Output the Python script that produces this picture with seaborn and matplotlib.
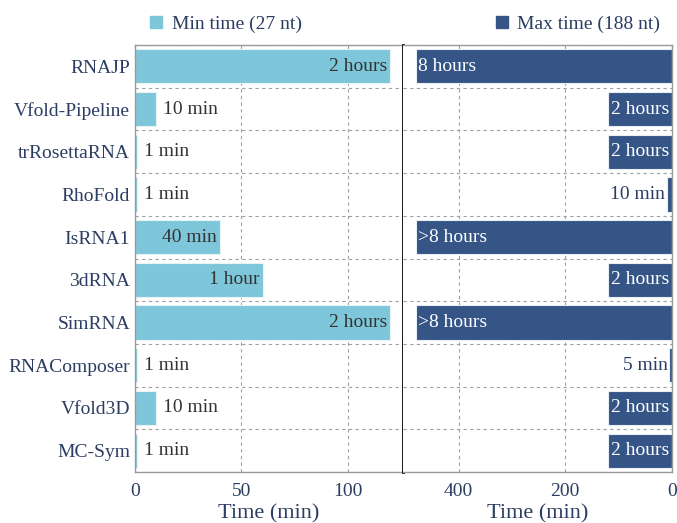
import numpy as np
import pandas as pd
import seaborn as sns
import matplotlib
matplotlib.use("Agg")
import matplotlib.pyplot as plt
from matplotlib.lines import Line2D

# ----------------------------
# DATA
# ----------------------------
methods = ["RNAJP", "Vfold-Pipeline", "trRosettaRNA", "RhoFold", "IsRNA1",
           "3dRNA", "SimRNA", "RNAComposer", "Vfold3D", "MC-Sym"]
min_time = [120, 10, 1, 1, 40, 60, 120, 1, 10, 1]
max_time = [480, 120, 120, 10, 480, 120, 480, 5, 120, 120]
min_labels = ["2 hours", "10 min", "1 min", "1 min", "40 min",
              "1 hour", "2 hours", "1 min", "10 min", "1 min"]
max_labels = ["8 hours", "2 hours", "2 hours", "10 min", ">8 hours",
              "2 hours", ">8 hours", "5 min", "2 hours", "2 hours"]

df = pd.DataFrame({"method": methods, "min": min_time, "max": max_time})

# ----------------------------
# STYLE
# ----------------------------
sns.set_style("ticks")
plt.rcParams["font.family"] = ["Liberation Serif", "DejaVu Serif"]
navy = "#2b3d62"
light = "#7ec6d9"
dark = "#355587"
grid_c = "#a0a0a0"

fig = plt.figure(figsize=(6.77, 5.23), dpi=100)
ax1 = fig.add_axes([135/677, 51/523, 268/677, 427/523])
ax2 = fig.add_axes([403/677, 51/523, 269/677, 427/523])

sns.barplot(data=df, x="min", y="method", ax=ax1, color=light, width=0.8,
            edgecolor="#e8f4f8", linewidth=0.8, saturation=1)
sns.barplot(data=df, x="max", y="method", ax=ax2, color=dark, width=0.8,
            edgecolor="#e8eef6", linewidth=0.8, saturation=1)

ax1.set_xlim(0, max(min_time) * 1.05)
ax2.set_xlim(max(max_time) * 1.05, 0)
ax1.set_xticks([0, 50, 100])
ax2.set_xticks([400, 200, 0])

for ax in (ax1, ax2):
    ax.set_ylim(len(methods) - 0.5, -0.5)
    ax.set_yticks(np.arange(len(methods) + 1) - 0.5, minor=True)
    ax.grid(axis="x", which="major", linestyle=(0, (3, 3)), color=grid_c, lw=0.8)
    ax.grid(axis="y", which="minor", linestyle=(0, (3, 3)), color=grid_c, lw=0.8)
    ax.set_axisbelow(True)
    ax.set_xlabel("Time (min)", fontsize=16, color=navy, labelpad=3)
    ax.set_ylabel("")
    ax.tick_params(axis="x", direction="in", top=True, bottom=False, length=4,
                   color=grid_c, labelsize=14, labelcolor=navy, pad=8)
    ax.tick_params(axis="y", which="both", length=0, labelsize=14, labelcolor=navy)
    for s in ax.spines.values():
        s.set_color("#999999")
        s.set_linewidth(1.0)

ax2.set_yticklabels([])
ax1.spines["right"].set_color("black")
ax1.spines["right"].set_linewidth(2.0)
ax1.spines["right"].set_zorder(5)
ax2.spines["left"].set_visible(False)

# ----------------------------
# BAR LABELS
# ----------------------------
for i, (v, lab) in enumerate(zip(min_time, min_labels)):
    if v >= 40:
        ax1.text(v - 1.5, i, lab, ha="right", va="center", fontsize=14, color="#333333")
    else:
        ax1.text(v + 3, i, lab, ha="left", va="center", fontsize=14, color="#333333")

for i, (v, lab) in enumerate(zip(max_time, max_labels)):
    if v >= 480:
        ax2.text(v - 5, i, lab, ha="left", va="center", fontsize=14, color="white")
    elif v >= 100:
        ax2.text(v / 2, i, lab, ha="center", va="center", fontsize=14, color="white")
    else:
        ax2.text(v + 3, i, lab, ha="right", va="center", fontsize=14, color=navy)

# ----------------------------
# LEGENDS
# ----------------------------
h1 = Line2D([], [], marker="s", ls="", color=light, markersize=9)
h2 = Line2D([], [], marker="s", ls="", color=dark, markersize=9)
leg1 = ax1.legend([h1], ["Min time (27 nt)"], loc="lower left",
                  bbox_to_anchor=(0.0, 1.0), frameon=False, fontsize=14,
                  handlelength=1.0, handletextpad=0.3, borderaxespad=0.2,
                  labelcolor=navy)
leg2 = ax2.legend([h2], ["Max time (188 nt)"], loc="lower right",
                  bbox_to_anchor=(1.0, 1.0), frameon=False, fontsize=14,
                  handlelength=1.0, handletextpad=0.3, borderaxespad=0.2,
                  labelcolor=navy)

plt.savefig("out.png", dpi=100)
